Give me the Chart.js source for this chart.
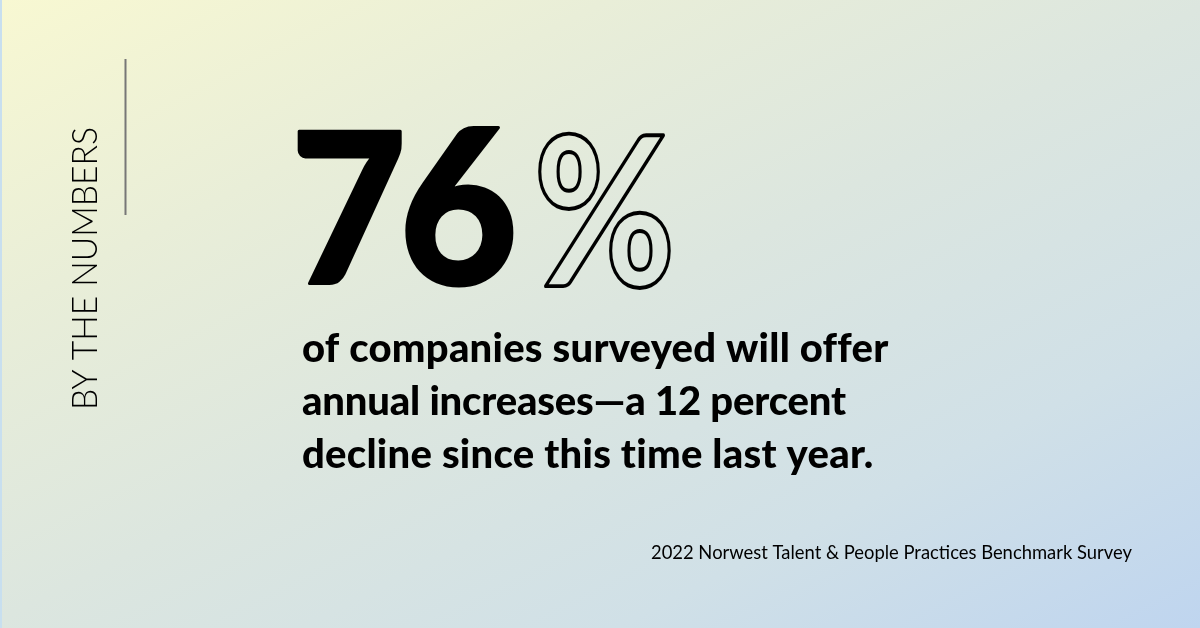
<!DOCTYPE html>
<html>
<head>
<meta charset="utf-8">
<script src="https://cdn.jsdelivr.net/npm/chart.js@4"></script>
<style>
    html, body { margin: 0; padding: 0; width: 1200px; height: 628px; overflow: hidden; }
    #wrap { position: relative; width: 1200px; height: 628px;
        box-shadow: inset 2px 0 0 #c8dfef;
        background: linear-gradient(153deg, #f8f8d2 0%, #e9eed8 25%, #dce6df 50%, #d0e0e7 76%, #bfd5ef 100%); }
    #stat-chart { position: relative; }
</style>
</head>
<body>
<div id="wrap"><canvas id="stat-chart" width="1200" height="628"></canvas></div>
<script>
// The one number on this card
const stat = { value: 76, unit: '%' };

// text, left edge of the ink, baseline, right edge of the ink
const bodyLines = [
    ['of companies surveyed will offer', 303, 362, 888],
    ['annual increases\u2014a 12 percent', 303, 415, 847],
    ['decline since this time last year.', 303, 468, 875],
];

// Scale a piece of text so its ink fills the given box
function placeText(ctx, text, x0, y0, x1, y1, stroke) {
    const m = ctx.measureText(text);
    const w = m.actualBoundingBoxLeft + m.actualBoundingBoxRight;
    const h = m.actualBoundingBoxAscent + m.actualBoundingBoxDescent;
    ctx.save();
    ctx.translate(x0, y0);
    ctx.scale((x1 - x0) / w, (y1 - y0) / h);
    if (stroke) {
        ctx.strokeText(text, m.actualBoundingBoxLeft, m.actualBoundingBoxAscent);
    } else {
        ctx.fillText(text, m.actualBoundingBoxLeft, m.actualBoundingBoxAscent);
    }
    ctx.restore();
}

const cardText = {
    id: 'cardText',
    afterDraw(chart) {
        const ctx = chart.ctx;
        const digits = String(chart.data.datasets[0].data[0]);
        ctx.save();
        ctx.fillStyle = '#000';
        ctx.strokeStyle = '#000';
        ctx.lineJoin = 'round';
        ctx.textBaseline = 'alphabetic';

        // big number, one digit at a time
        ctx.font = '900 210px Lato';
        ctx.lineWidth = 3;
        placeText(ctx, digits[0], 299, 131, 401, 284);
        placeText(ctx, digits[0], 299, 131, 401, 284, true);
        placeText(ctx, digits[1], 406, 128, 512, 286);
        placeText(ctx, digits[1], 406, 128, 512, 286, true);

        // outlined percent sign
        ctx.font = '900 190px Lato';
        ctx.lineWidth = 3.5;
        placeText(ctx, stat.unit, 539, 132, 670, 288, true);

        // body copy
        ctx.font = '900 40px Lato';
        bodyLines.forEach(([line, x0, y, x1]) => {
            const w = ctx.measureText(line).width;
            ctx.letterSpacing = ((x1 - x0 - w) / (line.length - 1)).toFixed(2) + 'px';
            ctx.fillText(line, x0 - 1, y);
            ctx.letterSpacing = '0px';
        });

        // source
        ctx.font = '400 18.4px Lato';
        ctx.fillText('2022 Norwest Talent & People Practices Benchmark Survey', 651, 559);

        // side label and rule
        ctx.fillStyle = '#777';
        ctx.fillRect(124.5, 59, 2, 156);
        ctx.fillStyle = '#000';
        ctx.translate(97, 410);
        ctx.rotate(-Math.PI / 2);
        ctx.font = '300 35px Lato';
        ctx.fillText('BY THE NUMBERS', 0, 0, 283);
        ctx.restore();
    }
};

new Chart(document.getElementById('stat-chart').getContext('2d'), {
    type: 'bar',
    data: {
        labels: ['Companies offering annual increases'],
        datasets: [{ data: [stat.value], backgroundColor: 'rgba(0,0,0,0)' }]
    },
    options: {
        responsive: false,
        animation: false,
        plugins: { legend: { display: false }, tooltip: { enabled: false } },
        scales: { x: { display: false }, y: { display: false, min: 0, max: 100 } }
    },
    plugins: [cardText]
});
</script>
</body>
</html>
